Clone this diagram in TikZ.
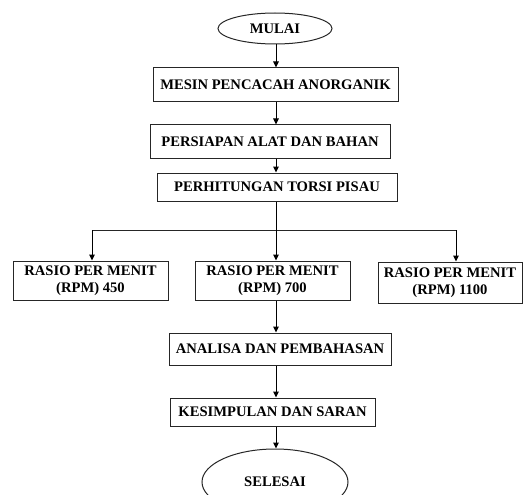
\documentclass[tikz,border=0pt]{standalone}
\usepackage{fontspec}
\setmainfont{Liberation Serif}
\usetikzlibrary{arrows.meta,shapes.geometric}
\begin{document}
\begin{tikzpicture}[x=1pt,y=-1pt,
  every node/.style={font=\fontsize{14.6}{17.5}\selectfont\bfseries, text=black},
  box/.style={draw=black!85, line width=1pt, inner sep=0pt, align=center},
  term/.style={draw=black!85, line width=1pt, ellipse, inner sep=0pt},
  arr/.style={-{Triangle[length=6pt,width=5.5pt]}, line width=1pt, draw=black},
  ln/.style={line width=1pt, draw=black!85}]
\useasboundingbox (0,0) rectangle (528,495);
\node[term, minimum width=114pt, minimum height=31pt] (start) at (275,28.5) {MULAI};
\node[box, minimum width=245pt, minimum height=34pt] (mesin) at (275.5,85) {MESIN PENCACAH ANORGANIK};
\node[box, minimum width=240pt, minimum height=33pt] (persiapan) at (270,141.5) {PERSIAPAN ALAT DAN BAHAN};
\node[box, minimum width=240pt, minimum height=28pt] (perhitungan) at (277,187) {PERHITUNGAN TORSI PISAU};
\node[box, minimum width=155pt, minimum height=39pt] (r1) at (90.5,280.5) {RASIO PER MENIT\\(RPM) 450};
\node[box, minimum width=155pt, minimum height=39pt] (r2) at (272.5,280.5) {RASIO PER MENIT\\(RPM) 700};
\node[box, minimum width=144pt, minimum height=41pt] (r3) at (450,282.5) {RASIO PER MENIT\\(RPM) 1100};
\node[box, minimum width=222pt, minimum height=32pt] (analisa) at (280,349) {ANALISA DAN PEMBAHASAN};
\node[box, minimum width=205pt, minimum height=28pt] (kesimpulan) at (272.5,412) {KESIMPULAN DAN SARAN};
\node[term, minimum width=146pt, minimum height=66pt] (finish) at (275,482) {SELESAI};
\coordinate (ax) at (276,0);
\coordinate (b1) at (92,230);
\coordinate (b3) at (456,230);
\draw[arr] (start.south -| ax) -- (mesin.north -| ax);
\draw[arr] (mesin.south -| ax) -- (persiapan.north -| ax);
\draw[arr] (persiapan.south -| ax) -- (perhitungan.north -| ax);
\draw[ln] (b1) -- (b3);
\draw[arr] (perhitungan.south -| ax) -- (r2.north -| ax);
\draw[arr] (b1) -- (b1 |- r1.north);
\draw[arr] (b3) -- (b3 |- r3.north);
\draw[arr] (r2.south -| ax) -- (analisa.north -| ax);
\draw[arr] (analisa.south -| ax) -- (kesimpulan.north -| ax);
\draw[arr] (kesimpulan.south -| ax) -- (finish.north -| ax);
\end{tikzpicture}
\end{document}
